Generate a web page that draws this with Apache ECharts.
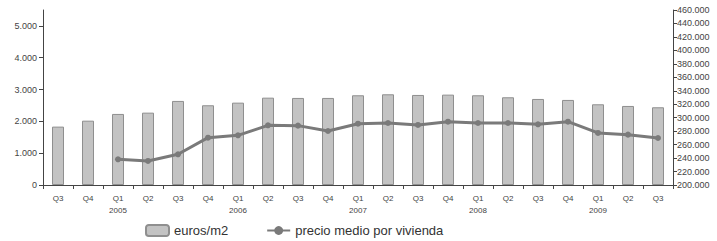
<!DOCTYPE html>
<html>
<head>
<meta charset="utf-8">
<script src="https://cdn.jsdelivr.net/npm/echarts@6/dist/echarts.min.js"></script>
<style>
  html, body { margin: 0; padding: 0; background: #fff; }
  #chart { width: 717px; height: 241px; }
</style>
</head>
<body>
<div id="chart"></div>
<script>
var quarters = ['Q3', 'Q4', 'Q1\n2005', 'Q2', 'Q3', 'Q4', 'Q1\n2006', 'Q2', 'Q3', 'Q4', 'Q1\n2007', 'Q2', 'Q3', 'Q4', 'Q1\n2008', 'Q2', 'Q3', 'Q4', 'Q1\n2009', 'Q2', 'Q3'];
var eurosM2 = [1835, 2022, 2233, 2274, 2642, 2506, 2588, 2745, 2736, 2736, 2820, 2851, 2830, 2840, 2820, 2757, 2704, 2673, 2537, 2484, 2443];
var precioMedio = [null, null, 238200, 235700, 245600, 270300, 273800, 288700, 288200, 280200, 291100, 292100, 289200, 294100, 292100, 292100, 290200, 294100, 277300, 274800, 269800];

function fmt(v) {
  return String(v).replace(/\B(?=(\d{3})+(?!\d))/g, '.');
}

(function() {
  var axisColor = '#444';
  var labelColor = '#444';
  var font = 'Liberation Sans, Arial, sans-serif';
  var chart = echarts.init(document.getElementById('chart'), null, { renderer: 'svg' });
  chart.setOption({
    animation: false,
    grid: { left: 43, right: 44, top: 10, bottom: 56 },
    legend: {
      left: 140,
      top: 219,
      padding: [5, 5, 5, 5],
      itemWidth: 23,
      itemHeight: 11,
      itemGap: 38,
      textStyle: { color: '#333', fontSize: 13, fontFamily: font },
      data: ['euros/m2', 'precio medio por vivienda']
    },
    xAxis: {
      type: 'category',
      data: quarters,
      axisLine: { lineStyle: { color: axisColor } },
      axisTick: { show: true, length: 4, lineStyle: { color: axisColor } },
      axisLabel: {
        color: labelColor,
        fontSize: 8,
        lineHeight: 12,
        margin: 7,
        interval: 0,
        fontFamily: font
      }
    },
    yAxis: [{
      type: 'value',
      min: 0,
      max: 5500,
      interval: 1000,
      axisLine: { show: true, lineStyle: { color: axisColor } },
      axisTick: { show: true, length: 4, lineStyle: { color: axisColor } },
      splitLine: { show: false },
      axisLabel: {
        color: labelColor,
        fontSize: 9,
        showMaxLabel: false,
        margin: 6,
        fontFamily: font,
        formatter: function(v) { return fmt(v); }
      }
    }, {
      type: 'value',
      min: 200000,
      max: 460000,
      interval: 20000,
      position: 'right',
      axisLine: { show: true, lineStyle: { color: axisColor } },
      axisTick: { show: true, length: 4, lineStyle: { color: axisColor } },
      splitLine: { show: false },
      axisLabel: {
        color: labelColor,
        fontSize: 9,
        margin: 4,
        fontFamily: font,
        formatter: function(v) { return fmt(v); }
      }
    }],
    series: [{
      name: 'euros/m2',
      type: 'bar',
      yAxisIndex: 0,
      data: eurosM2,
      barWidth: 12,
      itemStyle: { color: '#c3c3c3', borderColor: '#8f8f8f', borderWidth: 1 }
    }, {
      name: 'precio medio por vivienda',
      type: 'line',
      yAxisIndex: 1,
      data: precioMedio,
      symbol: 'circle',
      symbolSize: 6,
      lineStyle: { color: '#7a7a7a', width: 3 },
      itemStyle: { color: '#7a7a7a' }
    }]
  });
  window.addEventListener('resize', function() { chart.resize(); });
})();
</script>
</body>
</html>
